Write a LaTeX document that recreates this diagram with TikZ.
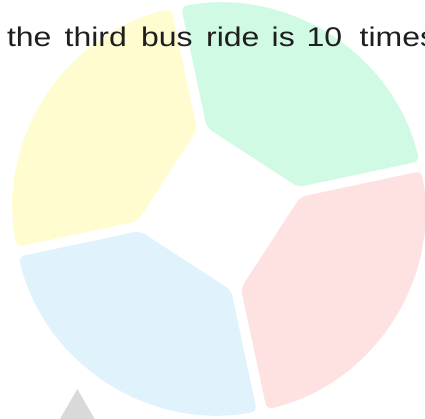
\documentclass[tikz,border=0pt]{standalone}
\usepackage{fontspec}
\setmainfont{Liberation Sans}
\newfontfamily\widesans[FakeStretch=1.185]{Liberation Sans}
\usetikzlibrary{calc}
\definecolor{pyellow}{HTML}{FFFDD0}
\definecolor{pgreen}{HTML}{D1FAE5}
\definecolor{pred}{HTML}{FEE2E2}
\definecolor{pblue}{HTML}{E0F3FD}
\definecolor{tgray}{HTML}{D9D9D9}
\definecolor{txtc}{HTML}{1E1E1E}
\begin{document}
\begin{tikzpicture}[x=1pt,y=1pt,
  petal/.style={fill=#1, rounded corners=6pt},
  titleword/.style={anchor=base west, inner sep=0pt, text=txtc, font=\widesans\fontsize{27}{30}\selectfont}]
\useasboundingbox (0,-418) rectangle (425,0);
\coordinate (C) at (219,-209);
\def\R{206}\def\r{82}\def\h{5}\def\d{1.39}
\foreach \g/\c in {12/pgreen,102/pyellow,192/pblue,282/pred}{
  \fill[petal=\c] ($(C)+(\g:\r)+(\g+90:\h)$) -- ($(C)+(\g+\d:\R)$)
    arc[start angle=\g+\d, end angle=\g+90-\d, radius=\R]
    -- ($(C)+(\g+90:\r)+(\g:\h)$) -- cycle;
}
\coordinate (apex) at (77.3,-389);
\fill[tgray] (apex) -- ++(-120:48) -- ++(0:48) -- cycle;
\foreach \x/\w [count=\i] in {6.8/the,64.5/third,140.8/bus,205.9/ride,271.5/is,306.5/10,359.5/times}{
  \node[titleword] (w\i) at (\x,-46.7) {\w};
}
\end{tikzpicture}
\end{document}
